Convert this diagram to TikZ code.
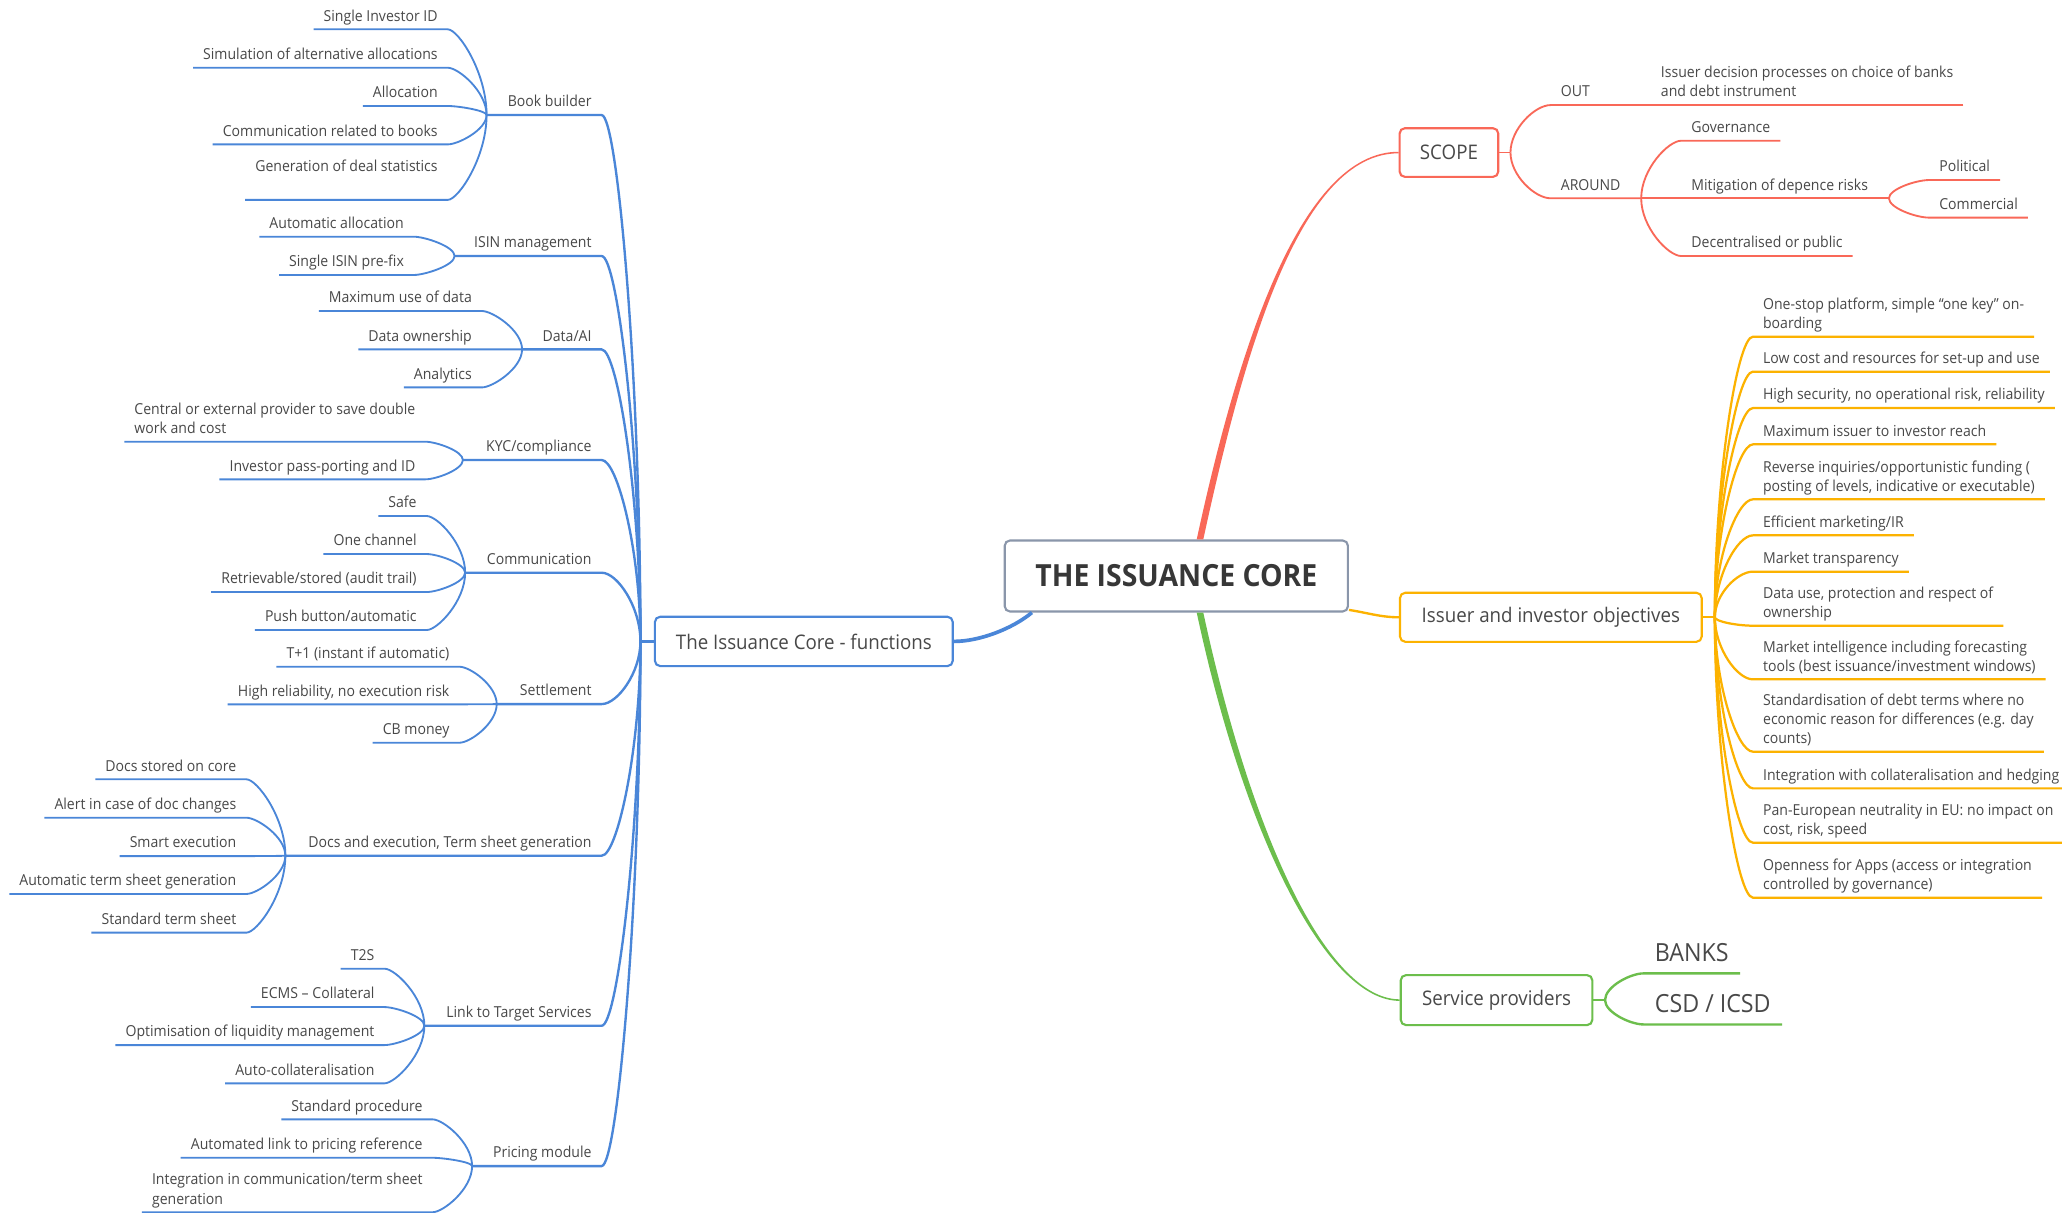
\documentclass[tikz,border=0pt]{standalone}
\usepackage{fontspec}
\setmainfont{Open Sans}[FakeStretch=0.93]
\usetikzlibrary{calc}
\definecolor{coreline}{RGB}{138,150,170}
\definecolor{txt}{RGB}{72,72,72}
\definecolor{fblue}{RGB}{74,134,216}
\definecolor{sred}{RGB}{249,104,88}
\definecolor{oyel}{RGB}{252,178,0}
\definecolor{pgreen}{RGB}{108,190,76}

\begin{document}
\begin{tikzpicture}[x=1pt,y=-1pt]
\tikzset{leaf/.style = {inner xsep=7.5pt, inner ysep=1.7pt, align=left, text=txt, font=\fontsize{11.5}{14.5}\selectfont, execute at end node=\strut}}
\tikzset{leafL/.style = {leaf, anchor=south east}}
\tikzset{leafR/.style = {leaf, anchor=south west}}
\tikzset{big/.style = {leafR, inner xsep=8.5pt, inner ysep=2.2pt, font=\fontsize{19}{23}\selectfont}}
\tikzset{topic/.style = {draw, line width=1.6pt, rounded corners=4pt, fill=white, text=txt, font=\fontsize{15.3}{18}\selectfont}}
\tikzset{conn/.style = {to path={let \p1=(\tikztostart), \p2=(\tikztotarget) in .. controls +(#1,0) and ($(\p2)!.5!(\x2,\y1)$) .. (\tikztotarget)}}}
\tikzset{bl/.style = {draw=fblue, line width=1.4pt}}
\tikzset{bl1/.style = {draw=fblue, line width=1.8pt}}
\tikzset{rl/.style = {draw=sred, line width=1.4pt}}
\tikzset{yl/.style = {draw=oyel, line width=1.7pt}}
\tikzset{gl/.style = {draw=pgreen, line width=1.8pt}}

\fill[white] (0,0) rectangle (1568,922.4);
\useasboundingbox (0,0) rectangle (1568,922.4);

% main topics
\node[topic, draw=coreline, minimum width=261pt, minimum height=54pt, text={rgb,255:red,55;green,55;blue,55}, font=\fontsize{23.2}{28}\selectfont\bfseries] (core) at (894.5,438) {THE ISSUANCE CORE};
\node[topic, draw=fblue, minimum width=226.5pt, minimum height=37.5pt] (fun) at (611.25,487.75) {The Issuance Core - functions};
\node[topic, draw=sred, minimum width=75pt, minimum height=37pt] (scope) at (1101.8,116) {SCOPE};
\node[topic, draw=oyel, minimum width=229.4pt, minimum height=37.3pt] (iss) at (1179.3,469.4) {Issuer and investor objectives};
\node[topic, draw=pgreen, minimum width=145.7pt, minimum height=38pt] (svc) at (1138,760.5) {Service providers};

% junctions
\coordinate (T) at (487,487.75);
\coordinate (bbJ) at (370,87.5);
\coordinate (isJ) at (345.7,194.7);
\coordinate (daJ) at (397,265.7);
\coordinate (kyJ) at (352,349.8);
\coordinate (coJ) at (353.7,435.5);
\coordinate (seJ) at (377.7,535.4);
\coordinate (dcJ) at (217,650.7);
\coordinate (liJ) at (322.7,780);
\coordinate (prJ) at (359,886.7);
\coordinate (scJ) at (1148.6,116);
\coordinate (arJ) at (1248,150.8);
\coordinate (mitJ) at (1436.4,150.8);
\coordinate (yJ) at (1304,469.4);
\coordinate (gJ) at (1220.5,760.5);

% functions
\node[leafL] (bb) at (457.5,87.5) {Book builder};
\node[leafL] (is) at (457.5,194.7) {ISIN management};
\node[leafL] (da) at (457.5,265.7) {Data/AI};
\node[leafL] (ky) at (457.5,349.8) {KYC/compliance};
\node[leafL] (co) at (457.5,435.5) {Communication};
\node[leafL] (se) at (457.5,535.4) {Settlement};
\node[leafL] (dc) at (457.5,650.7) {Docs and execution, Term sheet generation};
\node[leafL] (li) at (457.5,780) {Link to Target Services};
\node[leafL] (pr) at (457.5,886.7) {Pricing module};

\node[leafL] (bb1) at (340.5,22.3) {Single Investor ID};
\node[leafL] (bb2) at (340.5,51.5) {Simulation of alternative allocations};
\node[leafL] (bb3) at (340.5,80.6) {Allocation};
\node[leafL] (bb4) at (340.5,109.8) {Communication related to books};
\node[leafL, text depth=19.5pt] (bb5) at (340.5,152) {Generation of deal statistics};
\node[leafL] (is1) at (314.8,180) {Automatic allocation};
\node[leafL] (is2) at (314.8,209.1) {Single ISIN pre-fix};
\node[leafL] (da1) at (366.5,236.5) {Maximum use of data};
\node[leafL] (da2) at (366.5,265.7) {Data ownership};
\node[leafL] (da3) at (366.5,294.6) {Analytics};
\node[leafL] (ky1) at (323.5,335.9) {Central or external provider to save double\\work and cost};
\node[leafL] (ky2) at (323.5,364.5) {Investor pass-porting and ID};
\node[leafL] (co1) at (324.5,392.4) {Safe};
\node[leafL] (co2) at (324.5,421.3) {One channel};
\node[leafL] (co3) at (324.5,450.2) {Retrievable/stored (audit trail)};
\node[leafL] (co4) at (324.5,479.1) {Push button/automatic};
\node[leafL] (se1) at (349.4,507) {T+1 (instant if automatic)};
\node[leafL] (se2) at (349.4,535.6) {High reliability, no execution risk};
\node[leafL] (se3) at (349.4,564.8) {CB money};
\node[leafL] (dc1) at (187.4,592.6) {Docs stored on core};
\node[leafL] (dc2) at (187.4,621.8) {Alert in case of doc changes};
\node[leafL] (dc3) at (187.4,651) {Smart execution};
\node[leafL] (dc4) at (187.4,679.8) {Automatic term sheet generation};
\node[leafL] (dc5) at (187.4,709.2) {Standard term sheet};
\node[leafL] (li1) at (292.4,736.6) {T2S};
\node[leafL] (li2) at (292.4,765.8) {ECMS – Collateral};
\node[leafL] (li3) at (292.4,794.7) {Optimisation of liquidity management};
\node[leafL] (li4) at (292.4,823.8) {Auto-collateralisation};
\node[leafL] (pr1) at (329,851.2) {Standard procedure};
\node[leafL] (pr2) at (329,880.4) {Automated link to pricing reference};
\node[leafL] (pr3) at (329,921.8) {Integration in communication/term sheet\\generation};

% scope
\node[leafR] (out) at (1179.2,79.9) {OUT};
\node[leafR] (idp) at (1255.3,79.9) {Issuer decision processes on choice of banks\\and debt instrument};
\node[leafR] (around) at (1179.2,150.8) {AROUND};
\node[leafR] (gov) at (1278.5,107) {Governance};
\node[leafR] (mit) at (1278.5,150.8) {Mitigation of depence risks};
\node[leafR] (pol) at (1467,136.9) {Political};
\node[leafR] (com) at (1467,165.5) {Commercial};
\node[leafR] (dec) at (1278.5,194.7) {Decentralised or public};

% objectives
\node[leafR] (y1) at (1333,256) {One-stop platform, simple “one key” on-\\boarding};
\node[leafR] (y2) at (1333,282.6) {Low cost and resources for set-up and use};
\node[leafR] (y3) at (1333,310.3) {High security, no operational risk, reliability};
\node[leafR] (y4) at (1333,337.9) {Maximum issuer to investor reach};
\node[leafR] (y5) at (1333,379.7) {Reverse inquiries/opportunistic funding (\\posting of levels, indicative or executable)};
\node[leafR] (y6) at (1333,407.1) {Efficient marketing/IR};
\node[leafR] (y7) at (1333,434.7) {Market transparency};
\node[leafR] (y8) at (1333,475.8) {Data use, protection and respect of\\ownership};
\node[leafR] (y9) at (1333,516.6) {Market intelligence including forecasting\\tools (best issuance/investment windows)};
\node[leafR] (y10) at (1333,571.6) {Standardisation of debt terms where no\\economic reason for differences (e.g. day\\counts)};
\node[leafR] (y11) at (1333,599.5) {Integration with collateralisation and hedging};
\node[leafR] (y12) at (1333,640.8) {Pan-European neutrality in EU: no impact on\\cost, risk, speed};
\node[leafR] (y13) at (1333,682.6) {Openness for Apps (access or integration\\controlled by governance)};

% providers
\node[big] (banks) at (1249.7,740.2) {BANKS};
\node[big] (csd) at (1249.7,779) {CSD / ICSD};

% edges from the core
\fill[sred] ($(core.north)+(15.5,0)$) .. controls (942.5,260) and (990,115.4) .. ($(scope.west)+(0,-0.6)$) -- ($(scope.west)+(0,0.6)$) .. controls (990,116.6) and (947.5,260) .. ($(core.north)+(20.5,0)$) -- cycle;
\fill[pgreen] ($(core.south)+(15.5,0)$) .. controls (947.5,641) and (1010,761.1) .. ($(svc.west)+(0,0.6)$) -- ($(svc.west)+(0,-0.6)$) .. controls (1010,759.9) and (952.5,639) .. ($(core.south)+(20.5,0)$) -- cycle;
\draw[fblue, line width=2.8pt] ($(core.south west)+(21.5,0)$) .. controls (770,478) and (745,487.75) .. (fun.east);
\draw[oyel, line width=1.8pt] ($(core.south east)+(0,-2)$) .. controls (1040,466) and (1050,469.4) .. (iss.west);

% edges functions
\draw[bl1] (fun.west) -- (T);
\draw[bl1] (bbJ) -- (bb.south east) to[conn=12] (T);
\draw[bl1] (isJ) -- (is.south east) to[conn=12] (T);
\draw[bl1] (daJ) -- (da.south east) to[conn=12] (T);
\draw[bl1] (kyJ) -- (ky.south east) to[conn=12] (T);
\draw[bl1] (coJ) -- (co.south east) to[conn=12] (T);
\draw[bl1] (seJ) -- (se.south east) to[conn=12] (T);
\draw[bl1] (dcJ) -- (dc.south east) to[conn=12] (T);
\draw[bl1] (liJ) -- (li.south east) to[conn=12] (T);
\draw[bl1] (prJ) -- (pr.south east) to[conn=12] (T);

\draw[bl] (bb1.south west) -- (bb1.south east) to[conn=8] (bbJ);
\draw[bl] (bb2.south west) -- (bb2.south east) to[conn=8] (bbJ);
\draw[bl] (bb3.south west) -- (bb3.south east) to[conn=8] (bbJ);
\draw[bl] (bb4.south west) -- (bb4.south east) to[conn=8] (bbJ);
\draw[bl] (bb5.south west) -- (bb5.south east) to[conn=8] (bbJ);
\draw[bl] (is1.south west) -- (is1.south east) to[conn=8] (isJ);
\draw[bl] (is2.south west) -- (is2.south east) to[conn=8] (isJ);
\draw[bl] (da1.south west) -- (da1.south east) to[conn=8] (daJ);
\draw[bl] (da2.south west) -- (da2.south east) to[conn=8] (daJ);
\draw[bl] (da3.south west) -- (da3.south east) to[conn=8] (daJ);
\draw[bl] (ky1.south west) -- (ky1.south east) to[conn=8] (kyJ);
\draw[bl] (ky2.south west) -- (ky2.south east) to[conn=8] (kyJ);
\draw[bl] (co1.south west) -- (co1.south east) to[conn=8] (coJ);
\draw[bl] (co2.south west) -- (co2.south east) to[conn=8] (coJ);
\draw[bl] (co3.south west) -- (co3.south east) to[conn=8] (coJ);
\draw[bl] (co4.south west) -- (co4.south east) to[conn=8] (coJ);
\draw[bl] (se1.south west) -- (se1.south east) to[conn=8] (seJ);
\draw[bl] (se2.south west) -- (se2.south east) to[conn=8] (seJ);
\draw[bl] (se3.south west) -- (se3.south east) to[conn=8] (seJ);
\draw[bl] (dc1.south west) -- (dc1.south east) to[conn=8] (dcJ);
\draw[bl] (dc2.south west) -- (dc2.south east) to[conn=8] (dcJ);
\draw[bl] (dc3.south west) -- (dc3.south east) to[conn=8] (dcJ);
\draw[bl] (dc4.south west) -- (dc4.south east) to[conn=8] (dcJ);
\draw[bl] (dc5.south west) -- (dc5.south east) to[conn=8] (dcJ);
\draw[bl] (li1.south west) -- (li1.south east) to[conn=8] (liJ);
\draw[bl] (li2.south west) -- (li2.south east) to[conn=8] (liJ);
\draw[bl] (li3.south west) -- (li3.south east) to[conn=8] (liJ);
\draw[bl] (li4.south west) -- (li4.south east) to[conn=8] (liJ);
\draw[bl] (pr1.south west) -- (pr1.south east) to[conn=8] (prJ);
\draw[bl] (pr2.south west) -- (pr2.south east) to[conn=8] (prJ);
\draw[bl] (pr3.south west) -- (pr3.south east) to[conn=8] (prJ);

% edges scope
\draw[rl] (scope.east) -- (scJ);
\draw[rl] (out.south east) -- (out.south west) to[conn=-12] (scJ);
\draw[rl] (idp.south east) -- (idp.south west) -- (out.south east);
\draw[rl] (arJ) -- (around.south west) to[conn=-12] (scJ);
\draw[rl] (gov.south east) -- (gov.south west) to[conn=-10] (arJ);
\draw[rl] (mitJ) -- (mit.south west) -- (arJ);
\draw[rl] (dec.south east) -- (dec.south west) to[conn=-10] (arJ);
\draw[rl] (pol.south east) -- (pol.south west) to[conn=-10] (mitJ);
\draw[rl] (com.south east) -- (com.south west) to[conn=-10] (mitJ);

% edges objectives
\draw[yl] (iss.east) -- (yJ);
\draw[yl] (y1.south east) -- (y1.south west) to[conn=-12] (yJ);
\draw[yl] (y2.south east) -- (y2.south west) to[conn=-12] (yJ);
\draw[yl] (y3.south east) -- (y3.south west) to[conn=-12] (yJ);
\draw[yl] (y4.south east) -- (y4.south west) to[conn=-12] (yJ);
\draw[yl] (y5.south east) -- (y5.south west) to[conn=-12] (yJ);
\draw[yl] (y6.south east) -- (y6.south west) to[conn=-12] (yJ);
\draw[yl] (y7.south east) -- (y7.south west) to[conn=-12] (yJ);
\draw[yl] (y8.south east) -- (y8.south west) to[conn=-12] (yJ);
\draw[yl] (y9.south east) -- (y9.south west) to[conn=-12] (yJ);
\draw[yl] (y10.south east) -- (y10.south west) to[conn=-12] (yJ);
\draw[yl] (y11.south east) -- (y11.south west) to[conn=-12] (yJ);
\draw[yl] (y12.south east) -- (y12.south west) to[conn=-12] (yJ);
\draw[yl] (y13.south east) -- (y13.south west) to[conn=-12] (yJ);

% edges providers
\draw[gl] (svc.east) -- (gJ);
\draw[gl] (banks.south east) -- (banks.south west) to[conn=-10] (gJ);
\draw[gl] (csd.south east) -- (csd.south west) to[conn=-10] (gJ);
\end{tikzpicture}
\end{document}
